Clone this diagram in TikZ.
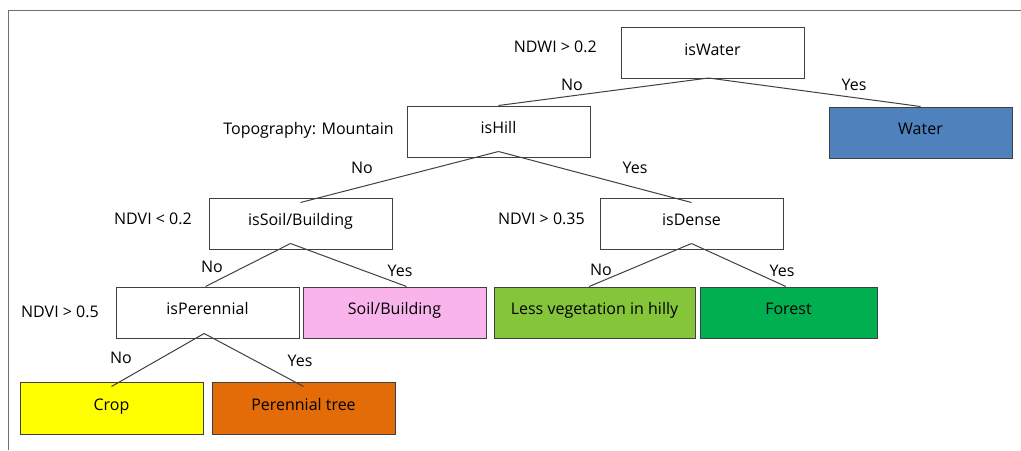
\documentclass[tikz,border=0pt]{standalone}
\usepackage{fontspec}
\setmainfont{Open Sans}
\usepackage{tikz}
\definecolor{waterblue}{RGB}{79,129,189}
\definecolor{soilpink}{RGB}{250,180,236}
\definecolor{lessgreen}{RGB}{133,197,58}
\definecolor{forestgreen}{RGB}{0,176,80}
\definecolor{cropyellow}{RGB}{255,255,0}
\definecolor{treeorange}{RGB}{227,108,9}
\definecolor{linegray}{RGB}{64,64,64}
\tikzset{
  box/.style={draw=linegray, line width=0.75pt, minimum width=137.25pt, minimum height=38.25pt,
    inner sep=0pt, text height=8.5pt, text depth=5.5pt, font=\fontsize{12}{14}\selectfont},
  edge/.style={draw=linegray, line width=0.75pt},
  lbl/.style={inner sep=0.75pt, font=\fontsize{12}{14}\selectfont}
}

\begin{document}
\begin{tikzpicture}[x=0.75pt,y=0.75pt,yscale=-1,xscale=1]
\path [use as bounding box] (0,0) rectangle (1021,450);

%Straight Lines [frame]
\draw [color={rgb, 255:red, 112; green, 112; blue, 112 }, line width=0.75] (8,10) -- (1021,10) ;
\draw [color={rgb, 255:red, 112; green, 112; blue, 112 }, line width=0.75] (8,10) -- (8,450) ;

%Shape: Rectangle [decision boxes]
\draw (712.5,53) node [box] (isWater) {isWater};
\draw (498.5,131.5) node [box] (isHill) {isHill};
\draw (300.5,223.5) node [box] (isSoil) {isSoil/Building};
\draw (691.5,223.5) node [box] (isDense) {isDense};
\draw (207.5,312.5) node [box] (isPerennial) {isPerennial};

%Shape: Rectangle [leaf boxes]
\draw (920.5,132.5) node [box, fill=waterblue] (water) {Water};
\draw (394.5,312.5) node [box, fill=soilpink] (soil) {Soil/Building};
\draw (594.5,312.5) node [box, fill=lessgreen, minimum width=150.75pt] (lessVeg) {Less vegetation in hilly};
\draw (788.5,312.5) node [box, fill=forestgreen, minimum width=132.75pt] (forest) {Forest};
\draw (111.5,408) node [box, fill=cropyellow, minimum height=39pt] (crop) {Crop};
\draw (303.5,408) node [box, fill=treeorange, minimum height=39pt] (perTree) {Perennial tree};

%Straight Lines [branches]
\draw [edge] ([xshift=-3pt,yshift=-0.75pt]isWater.south) -- (isHill.north) ;
\draw [edge] ([xshift=-3pt,yshift=-0.75pt]isWater.south) -- (water.north) ;
\draw [edge] ([yshift=-4.5pt]isHill.south) -- ([yshift=3.75pt]isSoil.north) ;
\draw [edge] ([yshift=-4.5pt]isHill.south) -- ([yshift=3.75pt]isDense.north) ;
\draw [edge] ([xshift=-7.5pt,yshift=-4.5pt]isSoil.south) -- ([xshift=-1.5pt]isPerennial.north) ;
\draw [edge] ([xshift=-7.5pt,yshift=-4.5pt]isSoil.south) -- ([xshift=9pt]soil.north) ;
\draw [edge] ([yshift=-4.5pt]isDense.south) -- ([xshift=-4pt]lessVeg.north) ;
\draw [edge] ([yshift=-4.5pt]isDense.south) -- ([xshift=-2pt]forest.north) ;
\draw [edge] ([xshift=-2.5pt,yshift=-3.75pt]isPerennial.south) -- ([yshift=3.75pt]crop.north) ;
\draw [edge] ([xshift=-2.5pt,yshift=-3.75pt]isPerennial.south) -- ([yshift=3.75pt]perTree.north) ;

% Text Node
\draw (598,47) node [lbl, anchor=east] (ndwi) {NDWI > 0.2};
% Text Node
\draw (395,130) node [lbl, anchor=east] (topo) {Topography: Mountain};
% Text Node
\draw (193,219) node [lbl, anchor=east] (ndviSoil) {NDVI < 0.2};
% Text Node
\draw (586,219) node [lbl, anchor=east] (ndviDense) {NDVI > 0.35};
% Text Node
\draw (100,312) node [lbl, anchor=east] (ndviPer) {NDVI > 0.5};

% Text Node
\draw (572,85) node [lbl] (noWater) {No};
% Text Node
\draw (854,85) node [lbl] (yesWater) {Yes};
% Text Node
\draw (362,168) node [lbl] (noHill) {No};
% Text Node
\draw (635,168) node [lbl] (yesHill) {Yes};
% Text Node
\draw (212,267) node [lbl] (noSoil) {No};
% Text Node
\draw (400,271) node [lbl] (yesSoil) {Yes};
% Text Node
\draw (601,270) node [lbl] (noDense) {No};
% Text Node
\draw (782,271) node [lbl] (yesDense) {Yes};
% Text Node
\draw (121,358) node [lbl] (noPer) {No};
% Text Node
\draw (300,361) node [lbl] (yesPer) {Yes};

\end{tikzpicture}
\end{document}
